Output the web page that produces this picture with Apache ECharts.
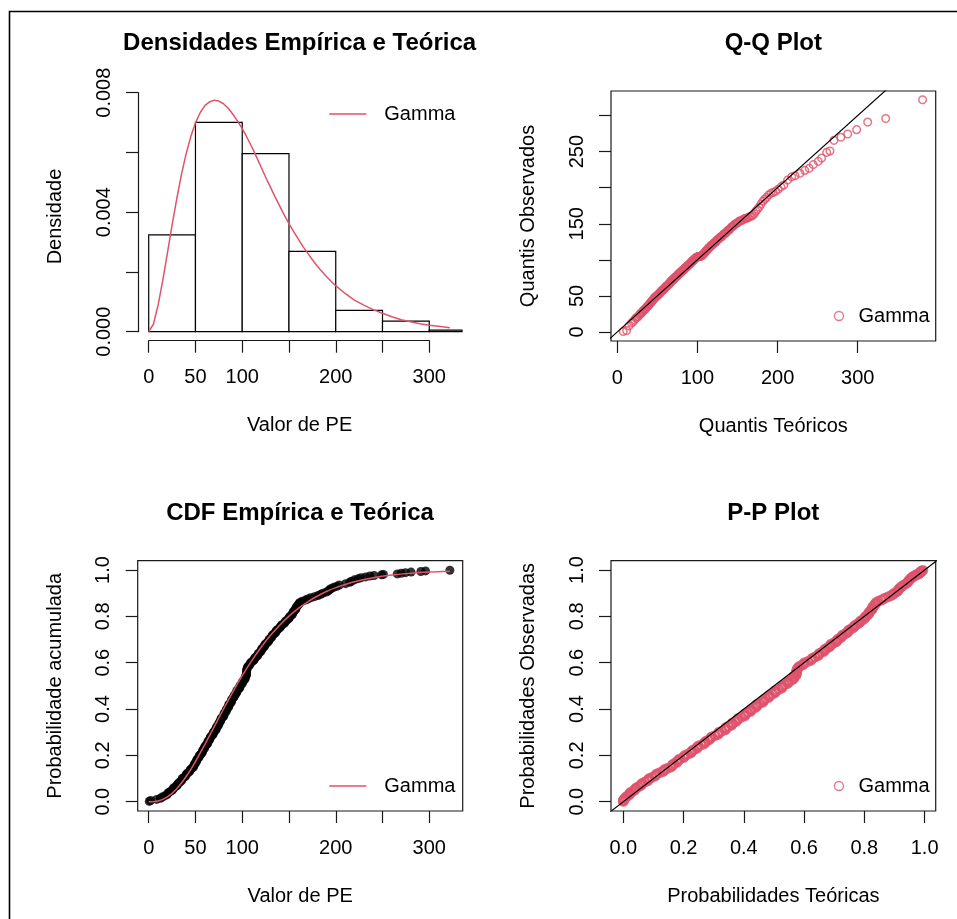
<!DOCTYPE html>
<html>
<head>
<meta charset="utf-8">
<title>Ajuste Gamma - PE</title>
<script src="https://cdn.jsdelivr.net/npm/echarts@6/dist/echarts.min.js"></script>
<style>
  html, body { margin: 0; padding: 0; background: #fff; }
  #chart { width: 957px; height: 919px; }
</style>
</head>
<body>
<div id="chart"></div>
<script>
// ---- values ----

// histogram (breaks of 50) and its densities
const histBreaks = [0, 50, 100, 150, 200, 250, 300, 350];
const histDensity = [0.00324, 0.00701, 0.00596, 0.00269, 0.000714, 0.000357, 0.000056];

// fitted gamma density (red curve, top left)
const gammaDensX = [0, 5, 10, 15, 20, 25, 30, 35, 40, 45, 50, 55, 60, 65, 70, 75, 80, 85, 90, 95,
  100, 105, 110, 115, 120, 125, 130, 135, 140, 145, 150, 155, 160, 165, 170, 175, 180, 185, 190,
  195, 200, 210, 220, 230, 240, 250, 260, 270, 280, 290, 300, 310, 322];
const gammaDensY = [0, 0.00025, 0.00088, 0.00171, 0.00263, 0.00357, 0.00445, 0.00526, 0.00595,
  0.00653, 0.00699, 0.00733, 0.00757, 0.00769, 0.00775, 0.00772, 0.00763, 0.00748, 0.00728,
  0.00705, 0.0068, 0.00651, 0.0062, 0.00587, 0.00552, 0.00518, 0.00485, 0.00452, 0.00421,
  0.0039, 0.00362, 0.00335, 0.0031, 0.00285, 0.00263, 0.00241, 0.00221, 0.00202, 0.00185,
  0.00169, 0.00154, 0.00128, 0.00106, 0.00089, 0.00074, 0.00062, 0.0005, 0.0004, 0.00033,
  0.00027, 0.00022, 0.00018, 0.00013];

// fitted gamma CDF (red curve, bottom left)
const gammaCdfX = [0, 10, 20, 30, 40, 50, 60, 70, 80, 90, 100, 110, 120, 130, 140, 150, 160, 170,
  180, 190, 200, 220, 240, 260, 280, 300, 322];
const gammaCdfY = [0, 0.0032, 0.0206, 0.0562, 0.1086, 0.1735, 0.2466, 0.3233, 0.4001, 0.4743,
  0.5439, 0.608, 0.6657, 0.7169, 0.7619, 0.8008, 0.8342, 0.8627, 0.8867, 0.907, 0.9238,
  0.9495, 0.9669, 0.9786, 0.9863, 0.9912, 0.9946];

// empirical probabilities of the sorted sample
const empProb = [0.0014,
  0.005, 0.01, 0.015, 0.02, 0.025, 0.03, 0.035, 0.04, 0.045, 0.05,
  0.055, 0.06, 0.065, 0.07, 0.075, 0.08, 0.085, 0.09, 0.095, 0.1,
  0.105, 0.11, 0.115, 0.12, 0.125, 0.13, 0.135, 0.14, 0.145, 0.15,
  0.155, 0.16, 0.165, 0.17, 0.175, 0.18, 0.185, 0.19, 0.195, 0.2,
  0.205, 0.21, 0.215, 0.22, 0.225, 0.23, 0.235, 0.24, 0.245, 0.25,
  0.255, 0.26, 0.265, 0.27, 0.275, 0.28, 0.285, 0.29, 0.295, 0.3,
  0.305, 0.31, 0.315, 0.32, 0.325, 0.33, 0.335, 0.34, 0.345, 0.35,
  0.355, 0.36, 0.365, 0.37, 0.375, 0.38, 0.385, 0.39, 0.395, 0.4,
  0.405, 0.41, 0.415, 0.42, 0.425, 0.43, 0.435, 0.44, 0.445, 0.45,
  0.455, 0.46, 0.465, 0.47, 0.475, 0.48, 0.485, 0.49, 0.495, 0.5,
  0.505, 0.51, 0.515, 0.52, 0.525, 0.53, 0.535, 0.54, 0.545, 0.55,
  0.555, 0.56, 0.565, 0.57, 0.575, 0.58, 0.585, 0.59, 0.595, 0.6,
  0.605, 0.61, 0.615, 0.62, 0.625, 0.63, 0.635, 0.64, 0.645, 0.65,
  0.655, 0.66, 0.665, 0.67, 0.675, 0.68, 0.685, 0.69, 0.695, 0.7,
  0.705, 0.71, 0.715, 0.72, 0.725, 0.73, 0.735, 0.74, 0.745, 0.75,
  0.755, 0.76, 0.765, 0.77, 0.775, 0.78, 0.785, 0.79, 0.795, 0.8,
  0.805, 0.81, 0.815, 0.82, 0.825, 0.83, 0.835, 0.84, 0.845, 0.85,
  0.855, 0.86, 0.865, 0.87, 0.875, 0.88, 0.885, 0.89, 0.895, 0.9,
  0.905, 0.91, 0.915, 0.92, 0.925, 0.93, 0.935,
  0.941,
  0.947, 0.9515, 0.9574, 0.9625, 0.9667, 0.9701, 0.9739, 0.9761, 0.9792, 0.981, 0.983,
  0.9859, 0.9884, 0.991, 0.9934, 0.9961, 0.9987];

// sorted observed PE values
const obsValues = [0.6,
  2.0, 8.5, 12.5, 14.3, 17.0, 19.35, 20.5, 21.35, 23.4, 25.25,
  26.1, 26.8, 28.7, 30.4, 30.9, 31.6, 33.3, 35.0, 35.5, 35.95,
  37.6, 39.25, 39.9, 40.35, 42.0, 43.75, 44.3, 44.8, 46.3, 47.9,
  48.3, 48.6, 49.4, 50.7, 51.0, 51.3, 52.1, 53.65, 54.0, 54.3,
  55.6, 57.05, 57.3, 57.6, 58.3, 59.65, 60.0, 60.2, 61.6, 62.95,
  63.1, 63.35, 64.6, 65.3, 65.7, 66.0, 67.5, 68.8, 69.1, 69.25,
  70.6, 71.95, 72.1, 72.15, 73.2, 74.65, 74.9, 75.05, 76.4, 76.9,
  77.3, 77.55, 79.0, 80.35, 80.5, 80.5, 81.5, 82.9, 83.1, 83.25,
  84.6, 85.6, 85.6, 85.75, 87.1, 88.45, 88.6, 88.6, 89.6, 91.05,
  91.3, 91.5, 92.9, 94.0, 94.1, 94.35, 95.8, 97.2, 97.4, 97.5,
  98.6, 100.05, 100.3, 100.55, 102.0, 103.1, 103.2, 103.2, 104.4, 104.5,
  104.6, 104.65, 104.7, 104.95, 105.2, 105.7, 106.3, 107.95, 108.4, 108.95,
  110.7, 112.35, 113.0, 113.3, 114.8, 116.4, 116.8, 117.3, 118.8, 120.25,
  120.5, 120.9, 122.5, 123.75, 124.0, 124.45, 126.1, 127.85, 128.4, 128.75,
  130.1, 131.55, 131.8, 132.45, 134.3, 135.8, 136.3, 136.7, 138.3, 140.2,
  140.9, 141.45, 143.0, 145.0, 145.8, 146.4, 148.2, 149.8, 150.4, 150.95,
  152.7, 153.85, 154.0, 154.6, 156.0, 157.25, 157.5, 157.65, 158.8, 160.15,
  160.5, 161.75, 164.0, 167.5, 170.0, 173.15, 177.3, 181.1, 183.9, 186.4,
  189.9, 192.2, 193.5, 195.15, 197.8, 201.2, 203.8,
  210.5,
  215, 216.7, 220, 224, 227, 232, 236.5, 241, 249, 251, 265.7,
  270, 274.5, 280.5, 291, 296, 322];

// theoretical gamma quantiles (Q-Q x axis)
const theoQuant = [7.4,
  11.6, 14.65, 17.7, 19.65, 21.6, 23.15, 24.7, 26.05, 27.4, 28.55,
  29.7, 30.8, 31.9, 32.9, 33.9, 34.9, 35.9, 36.8, 37.7, 38.55,
  39.4, 40.25, 41.1, 41.9, 42.7, 43.5, 44.3, 45.05, 45.8, 46.55,
  47.3, 48.05, 48.8, 49.5, 50.2, 50.9, 51.6, 52.3, 53.0, 53.7,
  54.4, 55.1, 55.8, 56.45, 57.1, 57.8, 58.5, 59.15, 59.8, 60.45,
  61.1, 61.75, 62.4, 63.05, 63.7, 64.35, 65.0, 65.65, 66.3, 66.95,
  67.6, 68.25, 68.9, 69.55, 70.2, 70.85, 71.5, 72.15, 72.8, 73.45,
  74.1, 74.75, 75.4, 76.05, 76.7, 77.35, 78.0, 78.65, 79.3, 79.95,
  80.6, 81.3, 82.0, 82.65, 83.3, 83.95, 84.6, 85.3, 86.0, 86.65,
  87.3, 88.0, 88.7, 89.4, 90.1, 90.8, 91.5, 92.2, 92.9, 93.6,
  94.3, 95.0, 95.7, 96.45, 97.2, 97.95, 98.7, 99.45, 100.2, 100.9,
  101.6, 102.4, 103.2, 103.95, 104.7, 105.5, 106.3, 107.1, 107.9, 108.7,
  109.5, 110.35, 111.2, 112.0, 112.8, 113.65, 114.5, 115.4, 116.3, 117.2,
  118.1, 119.0, 119.9, 120.8, 121.7, 122.65, 123.6, 124.6, 125.6, 126.6,
  127.6, 128.6, 129.6, 130.65, 131.7, 132.8, 133.9, 135.0, 136.1, 137.25,
  138.4, 139.6, 140.8, 142.0, 143.2, 144.5, 145.8, 147.1, 148.4, 149.8,
  151.2, 152.6, 154.0, 155.55, 157.1, 158.65, 160.2, 161.9, 163.6, 165.35,
  167.1, 169.0, 170.9, 172.9, 174.9, 177.1, 179.3, 181.6, 183.9, 186.4,
  188.9, 191.7, 194.5, 197.65, 200.8, 204.3, 207.8,
  212.5,
  217.6, 221.8, 228, 234, 239.6, 244.6, 250.8, 255, 261.3, 265.4, 270.4,
  279, 287.5, 298.7, 312.5, 335, 381];

// theoretical gamma probabilities (P-P x axis)
const theoProb = [0,
  0.0001, 0.002, 0.006, 0.0088, 0.0135, 0.0198, 0.0219, 0.024, 0.0307, 0.0376,
  0.0403, 0.0426, 0.0505, 0.0583, 0.0602, 0.0634, 0.0718, 0.0807, 0.083, 0.0854,
  0.0946, 0.1043, 0.108, 0.1106, 0.1205, 0.1317, 0.135, 0.1384, 0.1483, 0.1591,
  0.1618, 0.1637, 0.1691, 0.1784, 0.1806, 0.1828, 0.1885, 0.1997, 0.2022, 0.2043,
  0.2136, 0.2243, 0.2261, 0.2285, 0.2339, 0.2438, 0.2463, 0.2479, 0.2585, 0.2689,
  0.2702, 0.2722, 0.2817, 0.2872, 0.2903, 0.2927, 0.3042, 0.3142, 0.3166, 0.3177,
  0.3281, 0.3385, 0.3397, 0.3401, 0.3482, 0.3594, 0.3613, 0.3624, 0.3728, 0.3766,
  0.3797, 0.3816, 0.3927, 0.4031, 0.4043, 0.4043, 0.4118, 0.4225, 0.4241, 0.4252,
  0.4354, 0.4425, 0.4425, 0.4434, 0.4535, 0.4638, 0.465, 0.465, 0.4716, 0.4825,
  0.4846, 0.4858, 0.4957, 0.5036, 0.5042, 0.5058, 0.516, 0.526, 0.5274, 0.5279,
  0.5355, 0.5456, 0.5472, 0.5485, 0.5581, 0.5653, 0.5656, 0.5656, 0.5731, 0.574,
  0.5748, 0.575, 0.5752, 0.5767, 0.5782, 0.5813, 0.585, 0.5954, 0.5981, 0.6015,
  0.6123, 0.622, 0.6258, 0.6277, 0.6368, 0.6461, 0.6483, 0.6508, 0.659, 0.667,
  0.6682, 0.6703, 0.679, 0.6857, 0.687, 0.6893, 0.6978, 0.7064, 0.709, 0.7107,
  0.7173, 0.7242, 0.7253, 0.7284, 0.737, 0.7437, 0.7458, 0.7476, 0.7545, 0.7626,
  0.7655, 0.7677, 0.774, 0.782, 0.7851, 0.7873, 0.7941, 0.7999, 0.8022, 0.8042,
  0.8103, 0.8144, 0.815, 0.817, 0.8215, 0.8257, 0.8266, 0.8274, 0.8311, 0.8352,
  0.8365, 0.8401, 0.8464, 0.8561, 0.8632, 0.8706, 0.8804, 0.8888, 0.895, 0.9,
  0.9069, 0.9111, 0.9133, 0.9161, 0.9205, 0.9258, 0.9298,
  0.9386,
  0.9441, 0.946, 0.9496, 0.9537, 0.9565, 0.9609, 0.9644, 0.9677, 0.9728, 0.9739, 0.9811,
  0.9828, 0.9845, 0.9864, 0.9892, 0.9904, 0.9947];

// reference line y = x
const qqDiagonal = [-50, 450];
const ppDiagonal = [-0.1, 1.1];

// tick labels that R actually printed
const peLabels = ['0', '50', '100', '200', '300'];
const densLabels = ['0.000', '0.004', '0.008'];
const qqXLabels = ['0', '100', '200', '300'];
const qqYLabels = ['0', '50', '150', '250'];
const probLabels = ['0.0', '0.2', '0.4', '0.6', '0.8', '1.0'];

// ---- chart ----
const FONT = "'Liberation Sans', Arial, Helvetica, sans-serif";
const RED = '#DF536B';
const INK = '#1a1a1a';

const grids = [];
const xAxes = [];
const yAxes = [];

function addGrid(rect, xa, ya) {
  grids.push(Object.assign({ containLabel: false }, rect));
  const i = grids.length - 1;
  xAxes.push(Object.assign({ gridIndex: i, type: 'value' }, xa));
  yAxes.push(Object.assign({ gridIndex: i, type: 'value' }, ya));
  return i;
}

const hidden = () => ({ show: false, min: 0, max: 1 });

// axis that only carries ticks + labels (R style, line spans tick range)
function tickAxis(min, max, interval, labels, fmt, opt) {
  return {
    min: min, max: max, interval: interval,
    axisLine: { show: opt.line, lineStyle: { color: INK, width: 1.2 } },
    axisTick: { show: true, length: 12, lineStyle: { color: INK, width: 1.2 } },
    axisLabel: {
      show: true, margin: opt.margin, rotate: opt.rotate || 0,
      fontSize: 20, color: '#000', fontFamily: FONT,
      formatter: function (v) {
        const s = fmt(v);
        return labels.indexOf(s) >= 0 ? s : '';
      }
    },
    splitLine: { show: false }
  };
}

// axis of the plotting region: carries only the axis title
function nameAxis(min, max, name, gap, rot) {
  return {
    min: min, max: max, name: name, nameLocation: 'middle', nameGap: gap, nameRotate: rot || 0,
    nameTextStyle: { fontSize: 20, color: '#000', fontFamily: FONT },
    axisLine: { show: false }, axisTick: { show: false },
    axisLabel: { show: false }, splitLine: { show: false }
  };
}

const boxStyle = { show: true, borderColor: INK, borderWidth: 1.2, backgroundColor: 'transparent' };
const intStr = v => String(Math.round(v));

// panel 1: histogram + density
const gDens = addGrid({ left: 137.2, top: 92.4, width: 324.8, height: 248.3 },
  nameAxis(-12.3, 335, 'Valor de PE', 75), nameAxis(-0.000301, 0.00801, 'Densidade', 72, 90));
addGrid({ left: 148.7, top: 92.4, width: 280.6, height: 248.3 },
  tickAxis(0, 300, 50, peLabels, intStr, { line: true, margin: 27 }), hidden());
addGrid({ left: 138, top: 92.7, width: 324, height: 239 },
  hidden(), tickAxis(0, 0.008, 0.002, densLabels, v => v.toFixed(3), { line: true, margin: 24, rotate: 90 }));

// panel 2: Q-Q
const gQQ = addGrid(Object.assign({ left: 611, top: 91, width: 324.7, height: 250 }, boxStyle),
  nameAxis(-7.86, 397.4, 'Quantis Teóricos', 75), nameAxis(-12.5, 334.1, 'Quantis Observados', 73, 90));
addGrid({ left: 617.3, top: 91, width: 240.4, height: 250 },
  tickAxis(0, 300, 100, qqXLabels, intStr, { line: false, margin: 27 }), hidden());
addGrid({ left: 611, top: 115.6, width: 324.7, height: 216.4 },
  hidden(), tickAxis(0, 300, 50, qqYLabels, intStr, { line: false, margin: 24, rotate: 90 }));

// panel 3: CDF
const gCdf = addGrid(Object.assign({ left: 137.7, top: 560.7, width: 325, height: 250.3 }, boxStyle),
  nameAxis(-11.76, 335.7, 'Valor de PE', 75), nameAxis(-0.0401, 1.0401, 'Probabilidade acumulada', 72, 90));
addGrid({ left: 148.7, top: 560.7, width: 280.6, height: 250.3 },
  tickAxis(0, 300, 50, peLabels, intStr, { line: false, margin: 27 }), hidden());
addGrid({ left: 137.7, top: 570, width: 325, height: 231.7 },
  hidden(), tickAxis(0, 1, 0.2, probLabels, v => v.toFixed(1), { line: false, margin: 24, rotate: 90 }));

// panel 4: P-P
const gPP = addGrid(Object.assign({ left: 611, top: 560.7, width: 324.7, height: 250.3 }, boxStyle),
  nameAxis(-0.0408, 1.0368, 'Probabilidades Teóricas', 75), nameAxis(-0.0401, 1.0401, 'Probabilidades Observadas', 73, 90));
addGrid({ left: 623.3, top: 560.7, width: 301.3, height: 250.3 },
  tickAxis(0, 1, 0.2, probLabels, v => v.toFixed(1), { line: false, margin: 27 }), hidden());
addGrid({ left: 611, top: 570, width: 324.7, height: 231.7 },
  hidden(), tickAxis(0, 1, 0.2, probLabels, v => v.toFixed(1), { line: false, margin: 24, rotate: 90 }));

const histData = histDensity.map((d, i) => [histBreaks[i], histBreaks[i + 1], d]);
const zip = (a, b) => a.map((v, i) => [v, b[i]]);

const hollow = { color: 'rgba(0,0,0,0)', borderColor: RED, borderWidth: 1.3 };

const series = [
  {
    type: 'custom', xAxisIndex: gDens, yAxisIndex: gDens, data: histData,
    encode: { x: [0, 1], y: 2 }, silent: true,
    renderItem: function (params, api) {
      const p0 = api.coord([api.value(0), 0]);
      const p1 = api.coord([api.value(1), api.value(2)]);
      const cs = params.coordSys;
      const shape = echarts.graphic.clipRectByRect(
        { x: p0[0], y: p1[1], width: p1[0] - p0[0], height: p0[1] - p1[1] },
        { x: cs.x, y: cs.y, width: cs.width, height: cs.height });
      return shape && { type: 'rect', shape: shape, style: { fill: '#fff', stroke: '#000', lineWidth: 1.2 } };
    }
  },
  {
    name: 'densGamma', type: 'line', xAxisIndex: gDens, yAxisIndex: gDens,
    data: zip(gammaDensX, gammaDensY), smooth: false, showSymbol: false,
    lineStyle: { color: RED, width: 1.5 }, itemStyle: { color: RED }, silent: true, z: 3
  },
  {
    name: 'qqGamma', type: 'scatter', xAxisIndex: gQQ, yAxisIndex: gQQ,
    data: zip(theoQuant, obsValues), symbolSize: 7.6,
    itemStyle: { color: 'rgba(0,0,0,0)', borderColor: RED, borderWidth: 1.5 }, silent: true
  },
  {
    type: 'line', xAxisIndex: gQQ, yAxisIndex: gQQ, data: zip(qqDiagonal, qqDiagonal),
    showSymbol: false, lineStyle: { color: '#000', width: 1.2 }, silent: true, z: 3
  },
  {
    type: 'scatter', xAxisIndex: gCdf, yAxisIndex: gCdf, data: zip(obsValues, empProb),
    symbolSize: 9, itemStyle: { color: '#000' }, silent: true
  },
  {
    name: 'cdfGamma', type: 'line', xAxisIndex: gCdf, yAxisIndex: gCdf,
    data: zip(gammaCdfX, gammaCdfY), smooth: 0.3, showSymbol: false,
    lineStyle: { color: RED, width: 1.5 }, itemStyle: { color: RED }, silent: true, z: 3
  },
  {
    name: 'ppGamma', type: 'scatter', xAxisIndex: gPP, yAxisIndex: gPP,
    data: zip(theoProb, empProb), symbolSize: 8.4,
    itemStyle: { color: 'rgba(0,0,0,0)', borderColor: RED, borderWidth: 2.4 }, silent: true
  },
  {
    type: 'line', xAxisIndex: gPP, yAxisIndex: gPP, data: zip(ppDiagonal, ppDiagonal),
    showSymbol: false, lineStyle: { color: '#000', width: 1.2 }, silent: true, z: 3
  }
];

const legendText = { fontSize: 20, color: '#000', fontFamily: FONT };
function lineLegend(name, top) {
  return {
    data: [{ name: name, icon: 'rect', itemStyle: { color: RED } }],
    left: 329.3, top: top, itemWidth: 37, itemHeight: 1.6, padding: 0,
    selectedMode: false, formatter: () => 'Gamma',
    textStyle: Object.assign({ padding: [0, 0, 0, 13] }, legendText)
  };
}
function circleLegend(name, top) {
  return {
    data: [{ name: name, icon: 'circle', itemStyle: hollow }],
    left: 833.8, top: top, itemWidth: 9, itemHeight: 9, padding: 0,
    selectedMode: false, formatter: () => 'Gamma',
    textStyle: Object.assign({ padding: [0, 0, 0, 10] }, legendText)
  };
}

function title(text, x, y) {
  return {
    text: text, left: x, top: y, textAlign: 'center', padding: 0,
    textStyle: { fontSize: 24, fontWeight: 'bold', color: '#000', fontFamily: FONT }
  };
}

const chart = echarts.init(document.getElementById('chart'), null, { renderer: 'canvas' });
chart.setOption({
  animation: false,
  backgroundColor: '#fff',
  title: [
    title('Densidades Empírica e Teórica', 299.6, 31),
    title('Q-Q Plot', 773.3, 31),
    title('CDF Empírica e Teórica', 300, 501),
    title('P-P Plot', 773.3, 501)
  ],
  legend: [
    lineLegend('densGamma', 104),
    circleLegend('qqGamma', 306),
    lineLegend('cdfGamma', 776),
    circleLegend('ppGamma', 776)
  ],
  grid: grids,
  xAxis: xAxes,
  yAxis: yAxes,
  series: series,
  graphic: [{
    type: 'rect', silent: true,
    shape: { x: 9.5, y: 11.5, width: 1000, height: 1000 },
    style: { fill: 'none', stroke: '#000', lineWidth: 1.6 }
  }]
});
</script>
</body>
</html>
